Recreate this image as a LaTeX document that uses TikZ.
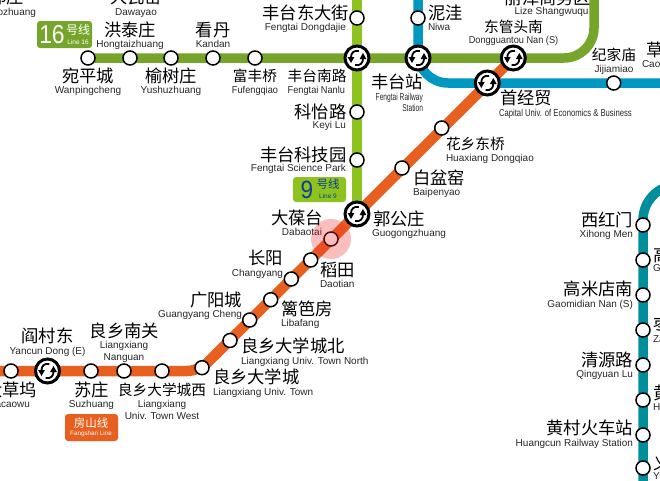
\documentclass[tikz,border=0pt]{standalone}
\usepackage{fontspec}
\usepackage{graphicx}
\setmainfont{Liberation Sans}
\newfontfamily\cjk{Noto Sans CJK SC}
\definecolor{lsixteen}{HTML}{76A52B}
\definecolor{lnine}{HTML}{8DC21F}
\definecolor{lblue}{HTML}{0098C0}
\definecolor{lteal}{HTML}{008E9C}
\definecolor{lorange}{HTML}{E8601F}
\definecolor{nineblue}{HTML}{0F3C96}
\definecolor{spot}{HTML}{F02828}
\newcommand{\xsym}[1]{%
  \begin{scope}[shift={(#1.center)}]
    \draw[line width=1.8pt] (1.8,-7) .. controls (-3,-8) and (-6.2,-5) .. (-6,-0.5);
    \fill (-9.4,-1) -- (-2.6,-1) -- (-6,5) -- cycle;
    \draw[line width=1.8pt] (-1.8,7) .. controls (3,8) and (6.2,5) .. (6,0.5);
    \fill (9.4,1) -- (2.6,1) -- (6,-5) -- cycle;
  \end{scope}}
\pgfdeclarelayer{lines}\pgfsetlayers{lines,main}
\tikzset{
  stn/.style={circle,draw=black,fill=white,line width=1.5pt,minimum size=14pt,inner sep=0pt,outer sep=0pt},
  xfer/.style={circle,draw=black,fill=white,line width=3pt,minimum size=24pt,inner sep=0pt,outer sep=0pt},
  route/.style={line width=9.5pt,line cap=butt,line join=round},
  cn/.style={inner sep=0pt,outer sep=0pt,font=\cjk\fontsize{17.3}{18}\selectfont},
  cns/.style={inner sep=0pt,outer sep=0pt,font=\cjk\fontsize{14.7}{16}\selectfont},
  en/.style={inner sep=0pt,outer sep=0pt,font=\fontsize{10}{11}\selectfont,text=black!85,text height=7.2pt,text depth=0pt},
  badge/.style={rounded corners=3pt,inner sep=0pt,outer sep=0pt},
}
\begin{document}
\begin{tikzpicture}[x=1pt,y=-1pt]
\useasboundingbox (0,0) rectangle (660,480);
\clip (0,0) rectangle (660,480);
% free ends and bends of the lines
\coordinate (g1) at (594,58);
\coordinate (g2) at (594,-8);
\coordinate (n0) at (357,-8);
\coordinate (b0) at (418,-8);
\coordinate (b1) at (418,83);
\coordinate (b2) at (668,83);
\coordinate (t0) at (643,490);
\coordinate (t1) at (643,185);
\coordinate (t2) at (700,185);
\coordinate (o0) at (-8,371);
\coordinate (o1) at (199,371);
% stations
\path
 (88,58) node[stn] (wanping) {}
 (130,58) node[stn] (hongtai) {}
 (171,58) node[stn] (yushu) {}
 (213,58) node[stn] (kandan) {}
 (255,58) node[stn] (fufeng) {}
 (357,58) node[xfer] (nanlu) {}
 (418,58) node[xfer] (fengtai) {}
 (513.3,58) node[xfer] (dongguan) {}
 (357,18) node[stn] (dongda) {}
 (357,112) node[stn] (keyi) {}
 (357,160) node[stn] (science) {}
 (357,214) node[xfer] (guogong) {}
 (418,18) node[stn] (niwa) {}
 (487.3,83) node[xfer] (capital) {}
 (613.7,83) node[stn] (jijia) {}
 (402,168) node[stn] (baipen) {}
 (441.7,128) node[stn] (huaxiang) {}
 (331,239) node[stn] (dabao) {}
 (310.7,260) node[stn] (daotian) {}
 (291.3,279) node[stn] (changyang) {}
 (270.7,299.7) node[stn] (libafang) {}
 (249.7,320) node[stn] (guangyang) {}
 (230,340.5) node[stn] (univn) {}
 (202,367.7) node[stn] (univ) {}
 (162,371) node[stn] (univw) {}
 (124,371) node[stn] (nanguan) {}
 (91,371) node[stn] (suzhuang) {}
 (47.5,371) node[xfer] (yancun) {}
 (11,371) node[stn] (dacao) {}
 (643,225) node[stn] (xihong) {}
 (643,260) node[stn] (gaobei) {}
 (643,295) node[stn] (gaonan) {}
 (643,330) node[stn] (zaoyuan) {}
 (643,365) node[stn] (qingyuan) {}
 (643,400) node[stn] (hcxi) {}
 (643,435) node[stn] (hcrail) {}
 (643,468) node[stn] (yihe) {};
% lines, behind the stations
\begin{pgfonlayer}{lines}
\draw[route,color=lnine] (n0) -- (guogong.center);
\draw[route,color=lsixteen,rounded corners=30pt] (wanping.center) -- (g1) -- (g2);
\draw[route,color=lblue,rounded corners=30pt] (b0) -- (b1) -- (b2);
\draw[route,color=lteal,rounded corners=35pt] (t0) -- (t1) -- (t2);
\draw[route,color=lorange,line width=10.5pt,rounded corners=12pt] (o0) -- (o1) -- (dongguan.center);
\end{pgfonlayer}
\xsym{nanlu}\xsym{fengtai}\xsym{dongguan}\xsym{guogong}\xsym{capital}\xsym{yancun}
% badges
\node[badge,fill=lsixteen,anchor=north west,minimum width=55pt,minimum height=27pt] (b16) at (37,21) {};
\node[inner sep=0pt,text=white,font=\fontsize{26}{26}\selectfont] (b16n) at (52,34.5) {\scalebox{.88}[1]{16}};
\node[inner sep=0pt,text=white,font=\cjk\fontsize{12}{12}\selectfont] (b16c) at (78,29.5) {号线};
\node[inner sep=0pt,text=white,font=\fontsize{6.5}{7}\selectfont,text height=5pt,text depth=0pt] (b16e) at (78,41.5) {Line 16};
\node[badge,fill=lnine,anchor=north west,minimum width=53pt,minimum height=25pt] (b9) at (293,177) {};
\node[inner sep=0pt,text=nineblue,font=\fontsize{25}{25}\selectfont] (b9n) at (307,189.5) {\scalebox{.9}[1]{9}};
\node[inner sep=0pt,text=nineblue,font=\cjk\fontsize{11.5}{12}\selectfont] (b9c) at (328,184.5) {号线};
\node[inner sep=0pt,text=nineblue,font=\fontsize{6.5}{7}\selectfont,text height=5pt,text depth=0pt] (b9e) at (328,196) {Line 9};
\node[badge,fill=lorange,anchor=north west,minimum width=53pt,minimum height=27pt] (bfs) at (65,414) {};
\node[inner sep=0pt,text=white,font=\cjk\fontsize{11.5}{12}\selectfont] (bfsc) at (91,423) {房山线};
\node[inner sep=0pt,text=white,font=\fontsize{6.3}{7}\selectfont] (bfse) at (91,434) {Fangshan Line};
% labels, Line 16
\node[cn] (c01) at (-2,-3) {张郭庄};
\node[en,anchor=east] (e01) at (36,12) {Zhangguozhuang};
\node[cn] (c02) at (136,-3) {大瓦窑};
\node[en] (e02) at (136,12) {Dawayao};
\node[cn] (c03) at (130,30) {洪泰庄};
\node[en] (e03) at (130,44) {Hongtaizhuang};
\node[cn] (c04) at (213,30) {看丹};
\node[en] (e04) at (213,44) {Kandan};
\node[cn] (c05) at (88,76) {宛平城};
\node[en] (e05) at (88,90) {Wanpingcheng};
\node[cn] (c06) at (171,76) {榆树庄};
\node[en] (e06) at (171,90) {Yushuzhuang};
\node[cns] (c07) at (255,76) {富丰桥};
\node[en] (e07) at (255,90) {\scalebox{.92}[1]{Fufengqiao}};
% Line 9
\node[cn,anchor=east] (c08) at (349,13) {丰台东大街};
\node[en,anchor=east] (e08) at (346,27) {Fengtai Dongdajie};
\node[cns,anchor=east] (c09) at (346.5,76) {丰台南路};
\node[en,anchor=east] (e09) at (345,90) {\scalebox{.92}[1]{Fengtai Nanlu}};
\node[cn,anchor=east] (c10) at (346.5,112) {科怡路};
\node[en,anchor=east] (e10) at (346,125) {Keyi Lu};
\node[cn,anchor=east] (c11) at (346.5,155) {丰台科技园};
\node[en,anchor=east] (e11) at (346,168) {Fengtai Science Park};
% top centre
\node[cn,anchor=west] (c12) at (428,13) {泥洼};
\node[en,anchor=west] (e12) at (428,27) {Niwa};
\node[cns] (c13) at (513.5,27) {东管头南};
\node[en] (e13) at (513.5,40) {\scalebox{.92}[1]{Dongguantou Nan (S)}};
\node[cn] (c14) at (548,-2) {丽泽商务区};
\node[en] (e14) at (551.5,11) {Lize Shangwuqu};
\node[cn,anchor=east] (c15) at (423,82) {丰台站};
\node[en,anchor=east] (e15) at (423,97) {\scalebox{.665}[1]{Fengtai Railway}};
\node[en,anchor=east] (e15b) at (423,108) {\scalebox{.665}[1]{Station}};
\node[cns] (c16) at (614,55) {纪家庙};
\node[en] (e16) at (614,69) {Jijiamiao};
\node[cn,anchor=west] (c17) at (646,50) {草桥};
\node[en,anchor=west] (e17) at (642,64) {Caoqiao};
\node[cn,anchor=west] (c18) at (500,98) {首经贸};
\node[en,anchor=west] (e18) at (499,113) {\scalebox{.77}[1]{Capital Univ. of Economics \& Business}};
\node[cns,anchor=west] (c19) at (446,144) {花乡东桥};
\node[en,anchor=west] (e19) at (446,158) {Huaxiang Dongqiao};
\node[cn,anchor=west] (c20) at (413,178) {白盆窑};
\node[en,anchor=west] (e20) at (413,192) {Baipenyao};
\node[cn,anchor=west] (c21) at (373,219) {郭公庄};
\node[en,anchor=west] (e21) at (372,233) {Guogongzhuang};
\node[cn,anchor=east] (c22) at (323,218) {大葆台};
\node[en,anchor=east] (e22) at (322,232) {Dabaotai};
\node[cn,anchor=west] (c23) at (320,270) {稻田};
\node[en,anchor=west] (e23) at (320,284) {Daotian};
\node[cn,anchor=east] (c24) at (283,258) {长阳};
\node[en,anchor=east] (e24) at (283,273) {Changyang};
\node[cn,anchor=west] (c25) at (281,309) {篱笆房};
\node[en,anchor=west] (e25) at (281,323) {Libafang};
\node[cn,anchor=east] (c26) at (242,300) {广阳城};
\node[en,anchor=east] (e26) at (242,314) {Guangyang Cheng};
\node[cn,anchor=west] (c27) at (241,346) {良乡大学城北};
\node[en,anchor=west] (e27) at (241,361) {Liangxiang Univ. Town North};
\node[cn,anchor=west] (c28) at (213,377) {良乡大学城};
\node[en,anchor=west] (e28) at (213,392) {Liangxiang Univ. Town};
\node[cns] (c29) at (162,390) {良乡大学城西};
\node[en] (e29) at (162,404) {Liangxiang};
\node[en] (e29b) at (162,416) {Univ. Town West};
\node[cn] (c30) at (124.5,331) {良乡南关};
\node[en] (e30) at (124,345) {Liangxiang};
\node[en] (e30b) at (124,357) {Nanguan};
\node[cn] (c31) at (91.5,390) {苏庄};
\node[en] (e31) at (91.5,404) {Suzhuang};
\node[cn] (c32) at (47.5,336) {阎村东};
\node[en] (e32) at (47.5,351) {Yancun Dong (E)};
\node[cn,anchor=east] (c33) at (37,390) {大草坞};
\node[en,anchor=east] (e33) at (30,404) {Dacaowu};
% teal line, west side
\node[cn,anchor=east] (c34) at (633,220) {西红门};
\node[en,anchor=east] (e34) at (633,234) {Xihong Men};
\node[cn,anchor=east] (c35) at (633,289) {高米店南};
\node[en,anchor=east] (e35) at (633,304) {Gaomidian Nan (S)};
\node[cn,anchor=east] (c36) at (633,360) {清源路};
\node[en,anchor=east] (e36) at (633,374) {Qingyuan Lu};
\node[cn,anchor=east] (c37) at (633,428) {黄村火车站};
\node[en,anchor=east] (e37) at (633,443) {Huangcun Railway Station};
% teal line, east side
\node[cn,anchor=west] (c38) at (653,255) {高米店北};
\node[en,anchor=west] (e38) at (653,268) {Gaomidian Bei};
\node[cn,anchor=west] (c39) at (653,325) {枣园};
\node[en,anchor=west] (e39) at (653,339) {Zaoyuan};
\node[cn,anchor=west] (c40) at (653,393) {黄村西大街};
\node[en,anchor=west] (e40) at (653,407) {Huangcun Xi Dajie};
\node[cn,anchor=west] (c41) at (653,463) {义和庄};
\node[en,anchor=west] (e41) at (653,476) {Yihezhuang};
% highlight over Dabaotai
\fill[spot,opacity=.3] (dabao.center) circle (20pt);
\end{tikzpicture}
\end{document}
